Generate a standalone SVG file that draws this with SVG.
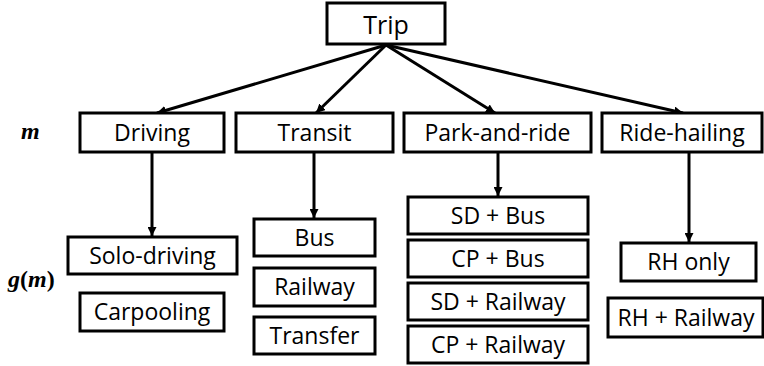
<svg xmlns="http://www.w3.org/2000/svg" width="764" height="366" viewBox="0 0 764 366">
  <defs>
    <marker id="arrow" viewBox="0 0 10 10" refX="10" refY="5" markerWidth="3" markerHeight="3" orient="auto" markerUnits="strokeWidth">
      <path d="M0,0 L10,5 L0,10 z" fill="#000"/>
    </marker>
    <style>
      .box { fill: #fff; stroke: #000; stroke-width: 3; }
      .lbl { font-family: "Open Sans", "Noto Sans", sans-serif; font-size: 23px; fill: #000; text-anchor: middle; }
      .math { font-family: "Liberation Serif", "DejaVu Serif", serif; font-weight: bold; font-style: italic; font-size: 24px; fill: #000; }
      .up { font-style: normal; }
      .edge { stroke: #000; stroke-width: 3; fill: none; marker-end: url(#arrow); }
    </style>
  </defs>
  <rect width="764" height="366" fill="#fff"/>

  <!-- connectors -->
  <g id="connectors">
    <line class="edge" x1="386" y1="45" x2="157" y2="113"/>
    <line class="edge" x1="386" y1="45" x2="316" y2="113"/>
    <line class="edge" x1="386" y1="45" x2="495" y2="113"/>
    <line class="edge" x1="386" y1="45" x2="683" y2="113"/>
    <line class="edge" x1="152" y1="152" x2="152" y2="236"/>
    <line class="edge" x1="314" y1="152" x2="314" y2="218"/>
    <line class="edge" x1="498" y1="152" x2="498" y2="196"/>
    <line class="edge" x1="689" y1="152" x2="689" y2="242"/>
  </g>

  <!-- level labels -->
  <text class="math" x="21" y="139">m</text>
  <text class="math" x="8" y="287">g<tspan class="up">(</tspan>m<tspan class="up">)</tspan></text>

  <g id="trip">
    <rect class="box" x="327" y="3" width="118" height="41"/>
    <text class="lbl" x="386" y="34" style="font-size:25px">Trip</text>
  </g>

  <g id="driving">
    <rect class="box" x="80" y="113" width="144" height="39"/>
    <text class="lbl" x="152" y="141">Driving</text>
  </g>
  <g id="transit">
    <rect class="box" x="236" y="113" width="157" height="39"/>
    <text class="lbl" x="314.5" y="141">Transit</text>
  </g>
  <g id="park-and-ride">
    <rect class="box" x="404" y="113" width="187" height="39"/>
    <text class="lbl" x="497.5" y="141">Park-and-ride</text>
  </g>
  <g id="ride-hailing">
    <rect class="box" x="602" y="113" width="160" height="39"/>
    <text class="lbl" x="682" y="141">Ride-hailing</text>
  </g>

  <g id="solo-driving">
    <rect class="box" x="68" y="237" width="169" height="37"/>
    <text class="lbl" x="152.5" y="264">Solo-driving</text>
  </g>
  <g id="carpooling">
    <rect class="box" x="80" y="293" width="144" height="38"/>
    <text class="lbl" x="152" y="320">Carpooling</text>
  </g>

  <g id="bus">
    <rect class="box" x="254" y="219" width="121" height="37"/>
    <text class="lbl" x="314.5" y="246">Bus</text>
  </g>
  <g id="railway">
    <rect class="box" x="254" y="268" width="121" height="38"/>
    <text class="lbl" x="314.5" y="295">Railway</text>
  </g>
  <g id="transfer">
    <rect class="box" x="254" y="317" width="121" height="37"/>
    <text class="lbl" x="314.5" y="344">Transfer</text>
  </g>

  <g id="sd-bus">
    <rect class="box" x="408" y="197" width="180" height="37"/>
    <text class="lbl" x="498" y="224">SD + Bus</text>
  </g>
  <g id="cp-bus">
    <rect class="box" x="408" y="240" width="180" height="37"/>
    <text class="lbl" x="498" y="267">CP + Bus</text>
  </g>
  <g id="sd-railway">
    <rect class="box" x="408" y="283" width="180" height="37"/>
    <text class="lbl" x="498" y="310">SD + Railway</text>
  </g>
  <g id="cp-railway">
    <rect class="box" x="408" y="326" width="180" height="37"/>
    <text class="lbl" x="498" y="353">CP + Railway</text>
  </g>

  <g id="rh-only">
    <rect class="box" x="621" y="243" width="135" height="38"/>
    <text class="lbl" x="688.5" y="270">RH only</text>
  </g>
  <g id="rh-railway">
    <rect class="box" x="608" y="298" width="155" height="39"/>
    <text class="lbl" x="686" y="326">RH + Railway</text>
  </g>
</svg>
